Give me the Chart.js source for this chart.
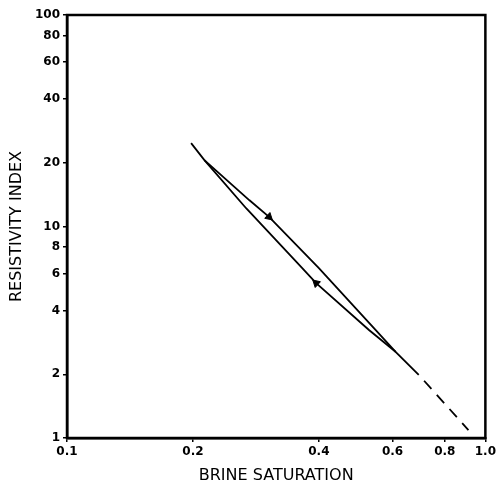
<!DOCTYPE html>
<html>
<head>
<meta charset="utf-8">
<script src="https://cdn.jsdelivr.net/npm/chart.js@4/dist/chart.umd.min.js"></script>
<style>
  html, body { margin: 0; padding: 0; background: #fff; }
  #wrap { width: 499px; height: 485px; }
</style>
</head>
<body>
<div id="wrap"><canvas id="riChart"></canvas></div>
<script>
// Resistivity index vs brine saturation
const satUpper = [0.198, 0.213, 0.273, 0.304, 0.400, 0.547, 0.611, 0.693];
const riUpper  = [24.8, 20.6, 13.3, 11.1, 6.36, 3.24, 2.55, 1.99];

const satLower = [0.213, 0.268, 0.365, 0.394, 0.527, 0.611];
const riLower  = [20.6, 12.2, 6.36, 5.40, 3.24, 2.55];

// dashed extension of the merged line
const satExt = [0.693, 0.911];
const riExt  = [1.99, 1.09];

// arrow heads sitting on the two branches
const satArrows = [0.304, 0.394];
const riArrows  = [11.1, 5.40];

const xTicks = [0.1, 0.2, 0.4, 0.6, 0.8, 1.0];
const xTickLabels = ['0.1', '0.2', '0.4', '0.6', '0.8', '1.0'];
const yTicks = [1, 2, 4, 6, 8, 10, 20, 40, 60, 80, 100];
const yTickLabels = ['1', '2', '4', '6', '8', '10', '20', '40', '60', '80', '100'];

const pts = (xs, ys) => xs.map((x, i) => ({ x: x, y: ys[i] }));
const FONT = "'DejaVu Sans', 'Liberation Sans', sans-serif";

// frame round the plot area
const framePlugin = {
  id: 'frame',
  afterDraw(chart) {
    const a = chart.chartArea, c = chart.ctx;
    c.save();
    c.strokeStyle = '#000';
    c.lineWidth = 2.5;
    c.strokeRect(a.left, a.top, a.right - a.left, a.bottom - a.top);
    c.restore();
  }
};

const ctx = document.getElementById('riChart').getContext('2d');
new Chart(ctx, {
  type: 'scatter',
  data: {
    datasets: [
      {
        data: pts(satUpper, riUpper),
        showLine: true, borderColor: '#000', borderWidth: 1.8,
        pointRadius: 0, tension: 0
      },
      {
        data: pts(satLower, riLower),
        showLine: true, borderColor: '#000', borderWidth: 1.8,
        pointRadius: 0, tension: 0
      },
      {
        data: pts(satExt, riExt),
        showLine: true, borderColor: '#000', borderWidth: 1.8,
        borderDash: [11, 8], borderDashOffset: 11,
        pointRadius: 0
      },
      {
        data: pts(satArrows, riArrows),
        showLine: false,
        pointStyle: 'triangle',
        pointRadius: 4.5,
        rotation: [132, -48],
        backgroundColor: '#000', borderColor: '#000', borderWidth: 1
      }
    ]
  },
  options: {
    responsive: true,
    maintainAspectRatio: false,
    animation: false,
    layout: { padding: { top: 15, right: 12, left: 0, bottom: 0 } },
    plugins: { legend: { display: false }, tooltip: { enabled: false } },
    scales: {
      x: {
        type: 'logarithmic',
        min: 0.1, max: 1.0,
        afterBuildTicks: s => { s.ticks = xTicks.map(v => ({ value: v })); },
        afterFit: s => { s.height = 47; },
        ticks: {
          autoSkip: false, maxRotation: 0, padding: 3,
          color: '#000', font: { family: FONT, size: 12, weight: 'bold' },
          callback: v => xTickLabels[xTicks.indexOf(v)]
        },
        grid: { drawOnChartArea: false, tickLength: 4, color: '#000', lineWidth: 1.5 },
        border: { color: '#000', width: 2.5 },
        title: {
          display: true, text: 'BRINE SATURATION', color: '#000',
          font: { family: FONT, size: 16 }, padding: { top: 2, bottom: 0 }
        }
      },
      y: {
        type: 'logarithmic',
        min: 1, max: 100,
        afterBuildTicks: s => { s.ticks = yTicks.map(v => ({ value: v })); },
        afterFit: s => { s.width = 67; },
        ticks: {
          autoSkip: false, padding: 3,
          color: '#000', font: { family: FONT, size: 12, weight: 'bold' },
          callback: v => yTickLabels[yTicks.indexOf(v)]
        },
        grid: { drawOnChartArea: false, tickLength: 4, color: '#000', lineWidth: 1.5 },
        border: { color: '#000', width: 2.5 },
        title: {
          display: true, text: 'RESISTIVITY INDEX', color: '#000',
          font: { family: FONT, size: 16 }, padding: { top: 7, bottom: 4 }
        }
      }
    }
  },
  plugins: [framePlugin]
});
</script>
</body>
</html>
